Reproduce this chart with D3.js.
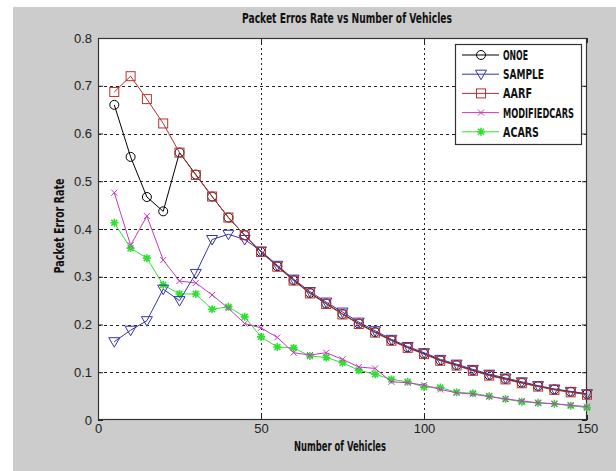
<!DOCTYPE html>
<html lang="en">
<head>
<meta charset="UTF-8">
<title>Packet Erros Rate vs Number of Vehicles</title>
<script src="https://d3js.org/d3.v7.min.js"></script>
<style>
  body { margin: 0; background: #fff; }
  .cond { font-family: "Liberation Sans Narrow", "DejaVu Sans Condensed", "Liberation Sans", sans-serif; font-weight: bold; fill: #111; }
  .tick text { font-family: "Liberation Sans", Arial, sans-serif; font-size: 13px; fill: #222; }
</style>
</head>
<body>
<script>
// number of vehicles (x) and packet error rate per method
var vehicles = [5,10,15,20,25,30,35,40,45,50,55,60,65,70,75,80,85,90,95,100,105,110,115,120,125,130,135,140,145,150];

var onoe = [0.660,0.551,0.467,0.437,0.560,0.514,0.468,0.424,0.387,0.352,0.322,0.293,0.266,0.244,0.222,0.202,0.184,0.167,0.152,0.139,0.125,0.115,0.104,0.094,0.086,0.078,0.071,0.064,0.059,0.054];
var sample = [0.164,0.188,0.208,0.274,0.250,0.307,0.378,0.389,0.378,0.354,0.324,0.295,0.269,0.247,0.226,0.205,0.187,0.169,0.154,0.141,0.127,0.117,0.106,0.096,0.088,0.080,0.072,0.065,0.060,0.055];
var aarf = [0.687,0.720,0.672,0.621,0.560,0.513,0.468,0.424,0.387,0.352,0.321,0.292,0.265,0.243,0.221,0.201,0.183,0.166,0.151,0.138,0.124,0.114,0.103,0.093,0.085,0.077,0.070,0.063,0.058,0.053];
var modifiedcars = [0.476,0.366,0.427,0.335,0.291,0.287,0.262,0.234,0.202,0.193,0.173,0.141,0.136,0.141,0.127,0.111,0.108,0.080,0.078,0.073,0.064,0.057,0.054,0.049,0.044,0.040,0.036,0.034,0.031,0.028];
var acars = [0.413,0.360,0.339,0.283,0.264,0.264,0.232,0.237,0.216,0.174,0.153,0.151,0.134,0.131,0.120,0.104,0.096,0.085,0.080,0.069,0.068,0.058,0.056,0.050,0.044,0.038,0.036,0.034,0.030,0.026];

var seriesNames = ["ONOE","SAMPLE","AARF","MODIFIEDCARS","ACARS"];
var xTicks = [0,50,100,150];
var yTicks = [0,0.1,0.2,0.3,0.4,0.5,0.6,0.7,0.8];

var title = "Packet Erros Rate vs Number of Vehicles";
var xTitle = "Number of Vehicles";
var yTitle = "Packet Error Rate";

// ---- drawing ----
var W = 616, H = 471;
var svg = d3.select("body").append("svg").attr("width", W).attr("height", H);

// grey figure background
svg.append("rect").attr("x", 13).attr("y", 7).attr("width", W - 13).attr("height", H - 7).attr("fill", "#cccccc");

var pL = 98, pR = 587, pT = 38, pB = 420;
var x = d3.scaleLinear().domain([0, 150]).range([pL, pR]);
var y = d3.scaleLinear().domain([0, 0.8]).range([pB, pT]);

svg.append("rect").attr("x", pL).attr("y", pT).attr("width", pR - pL).attr("height", pB - pT).attr("fill", "#fff");

// grid
var grid = svg.append("g").attr("stroke", "#222").attr("stroke-width", 1).attr("stroke-dasharray", "3,3");
grid.selectAll(".hg").data(yTicks.slice(1, -1)).enter().append("line")
  .attr("x1", pL).attr("x2", pR)
  .attr("y1", function(d) { return Math.round(y(d)) + 0.5; })
  .attr("y2", function(d) { return Math.round(y(d)) + 0.5; });
grid.selectAll(".vg").data(xTicks.slice(1, -1)).enter().append("line")
  .attr("y1", pT).attr("y2", pB)
  .attr("x1", function(d) { return Math.round(x(d)) + 0.5; })
  .attr("x2", function(d) { return Math.round(x(d)) + 0.5; })
  .attr("stroke-dasharray", "2,3");

// axes (ticks inside, like matlab)
var xAxis = d3.axisBottom(x).tickValues(xTicks).tickSizeInner(-5).tickSizeOuter(0).tickPadding(4).tickFormat(d3.format("d"));
var yAxis = d3.axisLeft(y).tickValues(yTicks).tickSizeInner(-5).tickSizeOuter(0).tickPadding(6)
  .tickFormat(function(d) { return d === 0 ? "0" : d3.format(".1f")(d); });

svg.append("g").attr("transform", "translate(0," + pB + ")").call(xAxis);
svg.append("g").attr("transform", "translate(" + pL + ",0)").call(yAxis);
svg.append("g").attr("transform", "translate(0," + pT + ")")
  .call(d3.axisTop(x).tickValues(xTicks).tickSizeInner(-5).tickSizeOuter(0).tickFormat(""));
svg.append("g").attr("transform", "translate(" + pR + ",0)")
  .call(d3.axisRight(y).tickValues(yTicks).tickSizeInner(-5).tickSizeOuter(0).tickFormat(""));
svg.selectAll(".domain").remove();
svg.selectAll(".tick line").attr("stroke", "#222");

svg.append("rect").attr("x", pL + 0.5).attr("y", pT + 0.5)
  .attr("width", pR - pL - 1).attr("height", pB - pT - 1)
  .attr("fill", "none").attr("stroke", "#333").attr("stroke-width", 1.2);

// series
var colors = ["#000000", "#3535a8", "#b83232", "#c23cc2", "#30e030"];
var values = [onoe, sample, aarf, modifiedcars, acars];
var markers = ["circle", "tri", "square", "x", "star"];

function drawMarker(g, type, cx, cy, color) {
  if (type == "circle") {
    g.append("circle").attr("cx", cx).attr("cy", cy).attr("r", 4.5).attr("fill", "none").attr("stroke", color);
  } else if (type == "tri") {
    g.append("path").attr("d", "M" + (cx - 5.5) + "," + (cy - 4) + "L" + (cx + 5.5) + "," + (cy - 4) + "L" + cx + "," + (cy + 5.5) + "Z")
      .attr("fill", "none").attr("stroke", color);
  } else if (type == "square") {
    g.append("rect").attr("x", cx - 4.5).attr("y", cy - 4.5).attr("width", 9).attr("height", 9).attr("fill", "none").attr("stroke", color);
  } else if (type == "x") {
    g.append("path").attr("d", "M" + (cx - 3) + "," + (cy - 3) + "L" + (cx + 3) + "," + (cy + 3) + "M" + (cx - 3) + "," + (cy + 3) + "L" + (cx + 3) + "," + (cy - 3))
      .attr("stroke", color).attr("fill", "none");
  } else {
    var r = 4;
    g.append("path").attr("d",
      "M" + cx + "," + (cy - r) + "L" + cx + "," + (cy + r) +
      "M" + (cx - r) + "," + cy + "L" + (cx + r) + "," + cy +
      "M" + (cx - 3) + "," + (cy - 3) + "L" + (cx + 3) + "," + (cy + 3) +
      "M" + (cx - 3) + "," + (cy + 3) + "L" + (cx + 3) + "," + (cy - 3))
      .attr("stroke", color).attr("stroke-width", 1.6).attr("fill", "none");
  }
}

var line = d3.line().x(function(d) { return x(d[0]); }).y(function(d) { return y(d[1]); });

// draw in order so AARF sits on top of SAMPLE / ONOE like the original
var order = [4, 3, 0, 1, 2];
order.forEach(function(k) {
  var pts = vehicles.map(function(v, i) { return [v, values[k][i]]; });
  var g = svg.append("g");
  g.append("path").datum(pts).attr("d", line).attr("fill", "none").attr("stroke", colors[k]).attr("stroke-width", 1);
  pts.forEach(function(p) { drawMarker(g, markers[k], x(p[0]), y(p[1]), colors[k]); });
});

// titles
svg.append("text").attr("class", "cond").attr("x", 347).attr("y", 23).attr("text-anchor", "middle")
  .attr("font-size", 14).attr("textLength", 210).attr("lengthAdjust", "spacingAndGlyphs").text(title);
svg.append("text").attr("class", "cond").attr("x", 340).attr("y", 451).attr("text-anchor", "middle")
  .attr("font-size", 14).attr("textLength", 92).attr("lengthAdjust", "spacingAndGlyphs").text(xTitle);
svg.append("text").attr("class", "cond").attr("transform", "translate(64,226) rotate(-90)").attr("text-anchor", "middle")
  .attr("font-size", 14).attr("textLength", 95).attr("lengthAdjust", "spacingAndGlyphs").text(yTitle);

// legend
var lg = svg.append("g");
lg.append("rect").attr("x", 455.5).attr("y", 44.5).attr("width", 126).attr("height", 100)
  .attr("fill", "#fff").attr("stroke", "#333").attr("stroke-width", 1.2);
var legendW = [25, 41, 29, 71, 36];
seriesNames.forEach(function(name, i) {
  var ly = 55 + i * 19.2;
  lg.append("line").attr("x1", 462).attr("x2", 499).attr("y1", ly).attr("y2", ly).attr("stroke", colors[i]);
  drawMarker(lg, markers[i], 481, ly, colors[i]);
  lg.append("text").attr("class", "cond").attr("x", 503).attr("y", ly + 5).attr("font-size", 14)
    .attr("textLength", legendW[i]).attr("lengthAdjust", "spacingAndGlyphs").text(name);
});
</script>
</body>
</html>
